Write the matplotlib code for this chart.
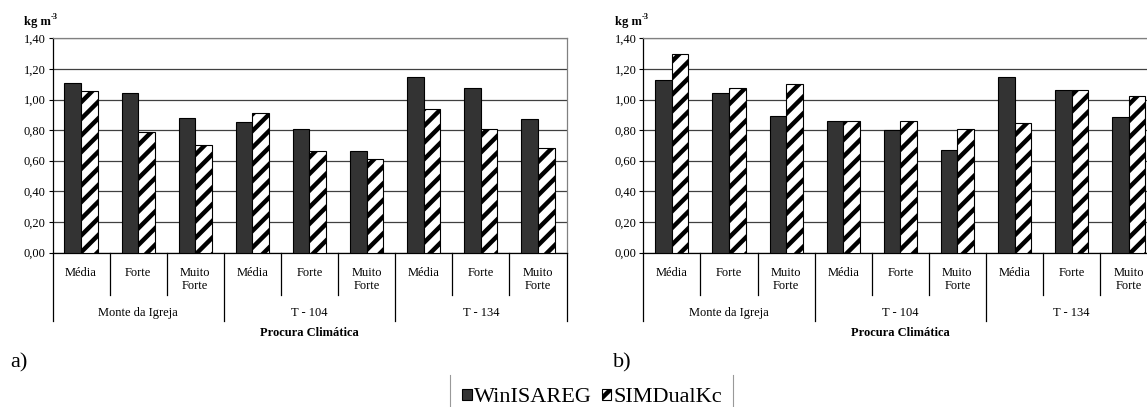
import matplotlib
matplotlib.use('Agg')
import matplotlib.pyplot as plt
from matplotlib.lines import Line2D
from matplotlib.transforms import blended_transform_factory
from matplotlib.ticker import FuncFormatter
import numpy as np

plt.rcParams['font.family'] = ['Liberation Serif', 'DejaVu Serif']
plt.rcParams['hatch.linewidth'] = 3.2

# data (kg m-3)
levels = ['Média', 'Forte', 'Muito\nForte']
stations = ['Monte da Igreja', 'T - 104', 'T - 134']
series_names = ['WinISAREG', 'SIMDualKc']

a_winisareg = [1.11, 1.04, 0.88, 0.85, 0.81, 0.665, 1.15, 1.075, 0.87]
a_simdualkc = [1.055, 0.79, 0.70, 0.91, 0.665, 0.61, 0.94, 0.81, 0.68]
b_winisareg = [1.13, 1.04, 0.89, 0.86, 0.80, 0.67, 1.145, 1.06, 0.885]
b_simdualkc = [1.30, 1.075, 1.10, 0.86, 0.86, 0.81, 0.845, 1.06, 1.02]

W, H = 1147, 407
fig = plt.figure(figsize=(W / 100, H / 100), dpi=100)


def fy(px):
    # pixel row -> figure fraction
    return 1 - px / H


ax_w = 514 / W
ax_b = fy(252.5)
ax_h = fy(38.3) - ax_b
ax_a = fig.add_axes([52.5 / W, ax_b, ax_w, ax_h])
ax_bb = fig.add_axes([643.3 / W, ax_b, ax_w, ax_h])

bw = 0.29


def draw_panel(ax, win, sim, tag, tag_x):
    x = np.arange(len(win))
    ax.bar(x - bw / 2, win, bw, color='#333333', edgecolor='black', linewidth=0.8,
           label=series_names[0], zorder=3)
    ax.bar(x + bw / 2, sim, bw, color='white', edgecolor='black', linewidth=0.8,
           hatch='//', label=series_names[1], zorder=3)
    ax.set_xlim(-0.5, len(win) - 0.5)
    ax.set_ylim(0, 1.4)
    ax.set_yticks(np.arange(0, 1.41, 0.2))
    ax.yaxis.set_major_formatter(FuncFormatter(lambda v, p: f'{v:.2f}'.replace('.', ',')))
    ax.tick_params(axis='y', length=3, width=0.8, pad=2, labelsize=9)
    ax.set_xticks([])
    ax.grid(axis='y', color='#404040', linewidth=0.9, zorder=0)
    ax.set_axisbelow(True)
    for s in ['top', 'right']:
        ax.spines[s].set_color('#808080')
        ax.spines[s].set_linewidth(0.9)
    for s in ['left', 'bottom']:
        ax.spines[s].set_color('black')
        ax.spines[s].set_linewidth(0.9)

    tr = blended_transform_factory(ax.transData, fig.transFigure)
    n = len(win)
    for i in range(n + 1):
        xe = i - 0.5
        low = 321 if i % 3 == 0 else 295
        ax.add_artist(Line2D([xe, xe], [fy(252.5), fy(low)], transform=tr,
                             color='black', linewidth=0.9, clip_on=False))
    for i in range(n):
        ax.text(i, fy(266.5), levels[i % 3], transform=tr, ha='center', va='top',
                fontsize=9, linespacing=1.18)
    for g, st in enumerate(stations):
        ax.text(g * 3 + 1, fy(313), st, transform=tr, ha='center', va='center', fontsize=9)
    ax.text(4, fy(333), 'Procura Climática', transform=tr, ha='center', va='center',
            fontsize=9, fontweight='bold')

    # unit label above the axis
    x0 = ax.get_position().x0 * W
    fig.text((x0 - 28.5) / W, fy(22), 'kg m', fontsize=9, fontweight='bold',
             ha='left', va='center')
    fig.text((x0 - 1.5) / W, fy(17), '-3', fontsize=6, fontweight='bold',
             ha='left', va='center')
    fig.text(tag_x / W, fy(363), tag, fontsize=16, ha='left', va='center')


draw_panel(ax_a, a_winisareg, a_simdualkc, 'a)', 10)
draw_panel(ax_bb, b_winisareg, b_simdualkc, 'b)', 613)

handles, labels = ax_a.get_legend_handles_labels()
fig.legend(handles, labels, loc='center', bbox_to_anchor=(592 / W, fy(398)), ncol=2,
           frameon=False, fontsize=16, handlelength=0.42, handleheight=0.42,
           handletextpad=0.1, columnspacing=0.45, borderpad=0)
for xl in (450, 733):
    fig.add_artist(Line2D([xl / W, xl / W], [fy(375), fy(407)], transform=fig.transFigure,
                          color='#999999', linewidth=0.8))

fig.savefig('out.png', dpi=100)
